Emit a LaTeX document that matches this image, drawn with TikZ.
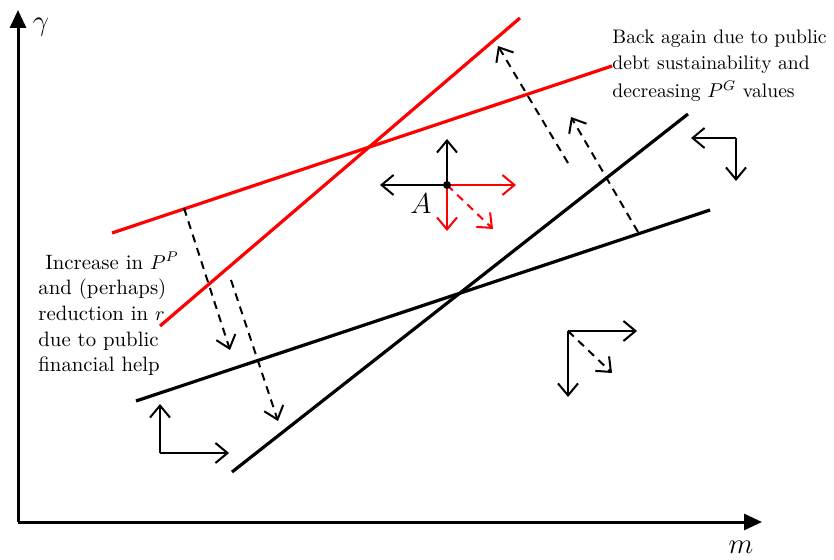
\documentclass[tikz,border=0pt]{standalone}
\usepackage{amsmath,amssymb}
\usepackage{tikz}
\usetikzlibrary{arrows.meta,positioning}

\begin{document}
\begin{tikzpicture}[
  x=0.5pt, y=-0.5pt,
  axis/.style={line width=1.5pt,-{Triangle[length=9pt,width=8pt]}},
  locus/.style={line width=1.6pt},
  move/.style={line width=1pt,-{Straight Barb[length=6pt,width=10pt]}},
  jump/.style={move,dash pattern=on 4pt off 3pt},
  note/.style={align=left,inner sep=0pt,font=\fontsize{10.4}{12.8}\selectfont},
  lbl/.style={inner sep=0pt,font=\Large}
]
\useasboundingbox (0,0) rectangle (834,560);

% axes
\coordinate (O) at (18,522);
\coordinate (ytip) at (18,10);
\coordinate (xtip) at (762,522);
\draw[axis] (O) -- (ytip);
\draw[axis] (O) -- (xtip);
\node[lbl] (gam) at (41,27) {$\gamma$};
\node[lbl] (mm) at (741,547) {$m$};

% loci before the shock (red)
\coordinate (rs1) at (160,326);
\coordinate (rs2) at (520,18);
\coordinate (rf1) at (112,233);
\coordinate (rf2) at (612,66);
\draw[locus,red] (rs1) -- (rs2);
\draw[locus,red] (rf1) -- (rf2);

% loci after the shock (black)
\coordinate (bs1) at (232,472);
\coordinate (bs2) at (688,114);
\coordinate (bf1) at (136,401);
\coordinate (bf2) at (710,210);
\draw[locus] (bs1) -- (bs2);
\draw[locus] (bf1) -- (bf2);

% shifts
\coordinate (d1a) at (184,208);
\coordinate (d1b) at (230,350);
\coordinate (d2a) at (231,280);
\coordinate (d2b) at (278,421);
\coordinate (d3a) at (568,163);
\coordinate (d3b) at (498,46);
\coordinate (d4a) at (638,232);
\coordinate (d4b) at (571,117);
\draw[jump] (d1a) -- (d1b);
\draw[jump] (d2a) -- (d2b);
\draw[jump] (d3a) -- (d3b);
\draw[jump] (d4a) -- (d4b);

% point A and its dynamics
\coordinate (A) at (447,185);
\coordinate (Al) at (380,185);
\coordinate (Au) at (447,139);
\coordinate (Ar) at (516,185);
\coordinate (Ad) at (447,231);
\coordinate (Ax) at (493,229);
\draw[move] (A) -- (Al);
\draw[move] (A) -- (Au);
\draw[move,red] (A) -- (Ar);
\draw[move,red] (A) -- (Ad);
\draw[jump,red] (A) -- (Ax);
\fill (A) circle (2pt);
\node[lbl] (Alab) at (421,204) {$A$};

% other regions
\coordinate (C1) at (568,331);
\coordinate (C1r) at (637,331);
\coordinate (C1d) at (568,397);
\coordinate (C1x) at (612,373);
\draw[move] (C1) -- (C1r);
\draw[move] (C1) -- (C1d);
\draw[jump] (C1) -- (C1x);

\coordinate (C2) at (736,138);
\coordinate (C2l) at (691,138);
\coordinate (C2d) at (736,181);
\draw[move] (C2) -- (C2l);
\draw[move] (C2) -- (C2d);

\coordinate (C3) at (160,453);
\coordinate (C3u) at (160,404);
\coordinate (C3r) at (229,453);
\draw[move] (C3) -- (C3u);
\draw[move] (C3) -- (C3r);

% comments
\node[note,anchor=north west,font=\fontsize{9.8}{13}\selectfont] (back) at (612,30)
  {Back again due to public\\debt sustainability and\\[1pt]decreasing $P^G$ values};
\node[note,anchor=north west] (incr) at (38,252)
  {\ Increase in $P^P$\\and (perhaps)\\reduction in $r$\\due to public\\financial help};
\end{tikzpicture}
\end{document}
